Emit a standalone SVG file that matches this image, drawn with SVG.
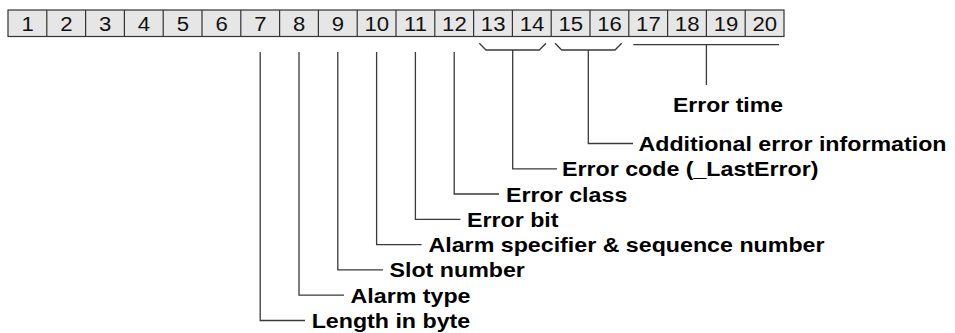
<svg xmlns="http://www.w3.org/2000/svg" width="955" height="333" viewBox="0 0 955 333">
<style>
.cell{fill:#e6e6e6;stroke:#333;stroke-width:1.2}
.num{font-family:"Liberation Sans",Arial,sans-serif;font-size:20.5px;fill:#111;text-anchor:middle}
.lbl{font-family:"Liberation Sans",Arial,sans-serif;font-size:21px;font-weight:bold;fill:#000}
.ln{fill:none;stroke:#3a3a3a;stroke-width:1.3}
</style>
<rect width="955" height="333" fill="#fff"/>
<g id="bytes">
<rect class="cell" x="8" y="10" width="776" height="26.5"/>
<path class="ln" style="stroke:#333;stroke-width:1.2" d="M46.8 10V36.5M85.6 10V36.5M124.4 10V36.5M163.2 10V36.5M202 10V36.5M240.8 10V36.5M279.6 10V36.5M318.4 10V36.5M357.2 10V36.5M396 10V36.5M434.8 10V36.5M473.6 10V36.5M512.4 10V36.5M551.2 10V36.5M590 10V36.5M628.8 10V36.5M667.6 10V36.5M706.4 10V36.5M745.2 10V36.5"/>
<g transform="scale(1.08 1)">
<text class="num" x="25.56" y="30.8">1</text>
<text class="num" x="61.48" y="30.8">2</text>
<text class="num" x="97.41" y="30.8">3</text>
<text class="num" x="133.33" y="30.8">4</text>
<text class="num" x="169.26" y="30.8">5</text>
<text class="num" x="205.19" y="30.8">6</text>
<text class="num" x="241.11" y="30.8">7</text>
<text class="num" x="277.04" y="30.8">8</text>
<text class="num" x="312.96" y="30.8">9</text>
<text class="num" x="348.89" y="30.8">10</text>
<text class="num" x="384.81" y="30.8">11</text>
<text class="num" x="420.74" y="30.8">12</text>
<text class="num" x="456.67" y="30.8">13</text>
<text class="num" x="492.59" y="30.8">14</text>
<text class="num" x="528.52" y="30.8">15</text>
<text class="num" x="564.44" y="30.8">16</text>
<text class="num" x="600.37" y="30.8">17</text>
<text class="num" x="636.30" y="30.8">18</text>
<text class="num" x="672.22" y="30.8">19</text>
<text class="num" x="708.15" y="30.8">20</text>
</g>
</g>
<g id="connectors">
<path class="ln" d="M260.2 52V320.5H305"/>
<path class="ln" d="M299 52V295.2H344"/>
<path class="ln" d="M337.8 52V269.9H383"/>
<path class="ln" d="M376.6 52V244.6H421.6"/>
<path class="ln" d="M415.4 52V219.3H460.4"/>
<path class="ln" d="M454.2 52V194H499"/>
<path class="ln" d="M479.3 43.3L486 50H539.3L546 43.3M512.7 50V168.8H557"/>
<path class="ln" d="M555 43.3L561.7 50H615L621.7 43.3M588.3 50V143.5H633"/>
<path class="ln" d="M633.3 44.7H779M706.4 44.7V85"/>
</g>
<g id="label-error-time"><text class="lbl" x="673" y="111.7" textLength="110" lengthAdjust="spacingAndGlyphs">Error time</text></g>
<g id="label-additional"><text class="lbl" x="638.5" y="151" textLength="308" lengthAdjust="spacingAndGlyphs">Additional error information</text></g>
<g id="label-error-code"><text class="lbl" x="562" y="176.3" textLength="256.5" lengthAdjust="spacingAndGlyphs">Error code (_LastError)</text></g>
<g id="label-error-class"><text class="lbl" x="506" y="201.5" textLength="121.3" lengthAdjust="spacingAndGlyphs">Error class</text></g>
<g id="label-error-bit"><text class="lbl" x="467" y="226.8" textLength="91.5" lengthAdjust="spacingAndGlyphs">Error bit</text></g>
<g id="label-alarm-spec"><text class="lbl" x="428.5" y="252.1" textLength="396" lengthAdjust="spacingAndGlyphs">Alarm specifier &amp; sequence number</text></g>
<g id="label-slot"><text class="lbl" x="389.5" y="277.4" textLength="135.4" lengthAdjust="spacingAndGlyphs">Slot number</text></g>
<g id="label-alarm-type"><text class="lbl" x="350.5" y="302.7" textLength="120" lengthAdjust="spacingAndGlyphs">Alarm type</text></g>
<g id="label-length"><text class="lbl" x="311.7" y="328" textLength="158.5" lengthAdjust="spacingAndGlyphs">Length in byte</text></g>
</svg>
